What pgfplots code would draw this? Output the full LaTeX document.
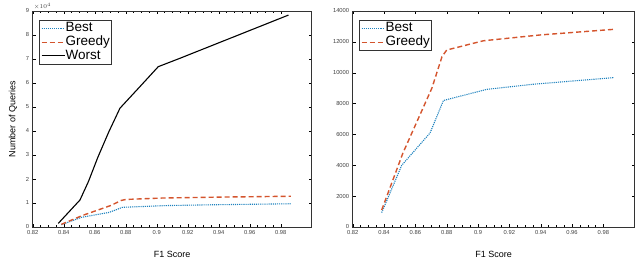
\documentclass[border=0pt]{standalone}
\usepackage{pgfplots}
\pgfplotsset{compat=1.18}
\usepackage{fontspec}
\setmainfont{Liberation Sans}
\definecolor{bestc}{RGB}{30,130,190}
\definecolor{greedyc}{RGB}{212,84,45}
\pgfplotstableread{
x y
0.8385 930
0.8513 4000
0.8694 6100
0.8779 8200
0.9056 8920
0.9350 9250
0.9865 9680
}\best
\pgfplotstableread{
x y
0.8385 1100
0.8520 4780
0.8705 8990
0.8770 11040
0.8800 11470
0.9034 12070
0.9400 12450
0.9865 12810
}\greedy
\pgfplotstableread{
x y
0.8365 1500
0.8505 11250
0.8560 19000
0.8620 29000
0.8690 39500
0.8763 49500
0.8892 58500
0.9010 66800
0.9150 70300
0.9850 88300
}\worst
\pgfplotsset{
  myax/.style={
    scale only axis,
    height=216pt,
    xmin=0.82, xmax=1.0,
    xtick={0.82,0.84,0.86,0.88,0.9,0.92,0.94,0.96,0.98},
    xticklabels={0.82,0.84,0.86,0.88,0.9,0.92,0.94,0.96,0.98},
    minor x tick num=3,
    tick align=inside,
    major tick length=3pt,
    minor tick length=1.5pt,
    tick style={black, line width=0.4pt},
    tick label style={font=\fontsize{5.8}{6}\selectfont, text=black!75},
    /pgf/number format/assume math mode=true,
    /pgf/number format/1000 sep={},
    xlabel={F1 Score},
    xlabel style={font=\fontsize{9}{10}\selectfont, yshift=-10pt},
    legend cell align=left,
    legend style={at={(rel axis cs:0,1)}, anchor=north west, xshift=6.5pt, yshift=-9pt,
      font=\fontsize{13.5}{14}\selectfont, draw=black!80, line width=0.7pt,
      inner sep=1.5pt, row sep=0.5pt,
      nodes={inner sep=0.5pt, text height=9.6pt, text depth=2.6pt}},
    legend image code/.code={\draw[##1, line width=1pt] (0pt,0pt) -- (23pt,0pt);},
    axis line style={black!80, line width=0.5pt},
  },
  bestst/.style={bestc, densely dotted, line width=1.1pt},
  greedyst/.style={greedyc, dash pattern=on 5pt off 3pt, line width=1.4pt},
  worstst/.style={black, line width=1.1pt},
}
\begin{document}
\begin{tikzpicture}
\path[use as bounding box] (0pt,0pt) rectangle (640pt,261pt);
\begin{axis}[myax,
  at={(32.7pt,34pt)}, anchor=south west,
  width=279pt,
  ymin=0, ymax=90000,
  ytick={0,10000,20000,30000,40000,50000,60000,70000,80000,90000},
  scaled y ticks=base 10:-4,
  ytick scale label code/.code={$\times10^{#1}$},
  every y tick scale label/.style={at={(rel axis cs:0,1)}, anchor=south west, inner sep=1pt, font=\fontsize{5.8}{6}\selectfont, text=black!75},
  ylabel={Number of Queries},
  ylabel style={font=\fontsize{9}{10}\selectfont, yshift=2pt},
]
\addplot[bestst] table[x=x,y=y] {\best};
\addlegendentry{Best}
\addplot[greedyst] table[x=x,y=y] {\greedy};
\addlegendentry{Greedy}
\addplot[worstst] table[x=x,y=y] {\worst};
\addlegendentry{Worst}
\end{axis}
\begin{axis}[myax,
  at={(352.7pt,34pt)}, anchor=south west,
  width=282pt,
  ymin=0, ymax=14000,
  ytick={0,2000,4000,6000,8000,10000,12000,14000},
  scaled y ticks=false,
]
\addplot[bestst] table[x=x,y=y] {\best};
\addlegendentry{Best}
\addplot[greedyst] table[x=x,y=y] {\greedy};
\addlegendentry{Greedy}
\end{axis}
\end{tikzpicture}
\end{document}
